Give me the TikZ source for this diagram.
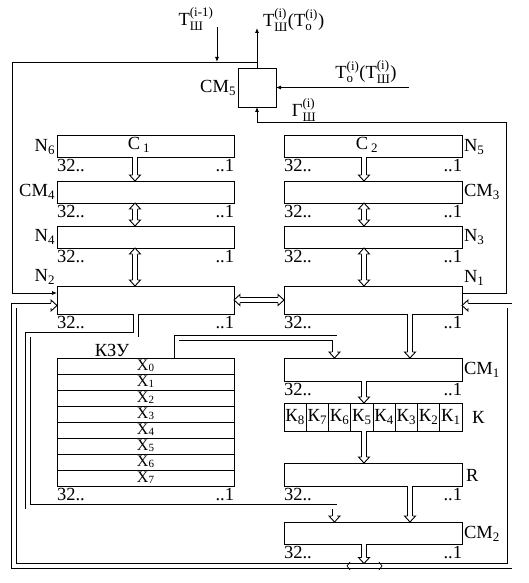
\documentclass[tikz,border=0pt]{standalone}
\usepackage{amsmath}
\usepackage{fontspec}
\setmainfont{Liberation Serif}
\usetikzlibrary{arrows.meta,decorations.markings}
\newcommand\fsz{\fontsize{18.5}{22}\selectfont}
\newcommand\xsz{\fontsize{16}{16}\selectfont}
\newcommand\xsub[1]{\raisebox{-1pt}{\fontsize{11}{11}\selectfont #1}}
\newcommand\hdE{\draw[line width=0.9pt,fill=white,shorten >=0pt,shorten <=0pt] (-6,2.5)--(-6,5.5)--(0,0)--(-6,-5.5)--(-6,-2.5);}
\newcommand\hdS{\draw[line width=0.9pt,fill=white,shorten >=0pt,shorten <=0pt] (6,2.5)--(6,5.5)--(0,0)--(6,-5.5)--(6,-2.5);}
\newcommand\Tx[3]{$\text{#1}_{\text{#2}}^{\text{#3}}$}
\tikzset{
  reg/.style={draw, inner sep=0pt, outer sep=0pt, minimum width=177pt, minimum height=22pt},
  regR/.style={reg, minimum width=178pt},
  kcell/.style={draw, inner sep=0pt, outer sep=0pt, minimum width=22.25pt, minimum height=28pt},
  zrow/.style={draw, inner sep=0pt, outer sep=0pt, minimum width=177pt, minimum height=16pt, font=\xsz},
  lbl/.style={inner sep=0pt, outer sep=0pt},
  num/.style={inner sep=0pt, outer sep=0pt, yshift=-2.5pt},
  thinA/.style={draw, line width=0.8pt, -{Latex[length=5pt,width=4pt]}},
  dbl/.style={draw, line width=0.9pt, double=white, double distance=4pt},
  dE/.style={dbl, shorten >=6pt, postaction={decorate, decoration={markings, mark=at position 1 with {\hdE}}}},
  dB/.style={dbl, shorten >=6pt, shorten <=6pt, postaction={decorate, decoration={markings, mark=at position 0 with {\hdS}, mark=at position 1 with {\hdE}}}}
}
\begin{document}
\begin{tikzpicture}[x=1pt,y=-1pt,line width=0.9pt,font=\fsz]
\useasboundingbox (0,0) rectangle (529,583);
% helper coordinates
\coordinate (LA) at (135,0);
\coordinate (RA) at (364,0);
\coordinate (RB) at (410,0);
\coordinate (NQ) at (136,0);
\coordinate (KQ) at (176.5,0);
\coordinate (y293) at (0,293);
\coordinate (y305) at (0,305.5);
\coordinate (p1) at (28,334.5);
\coordinate (p2) at (334.5,506.5);
\coordinate (p3) at (334.5,338);
\coordinate (bl) at (14,566);
\coordinate (br) at (509.5,566);
\coordinate (bt) at (0,563.5);
\coordinate (jn) at (257,62);
\coordinate (tl) at (12,62);
\coordinate (tin) at (217,27);
\coordinate (tout) at (257,28);
\coordinate (tin2) at (409,87.5);
\coordinate (g1) at (506.5,122);
% left column
\node[reg] (c1) at (145.5,146) {};
\node[reg] (cm4) at (145.5,192) {};
\node[reg] (n4) at (145.5,237) {};
\node[reg, minimum height=28pt] (n2) at (145.5,300) {};
% right column
\node[regR] (c2) at (373,146) {};
\node[regR] (cm3) at (373,192) {};
\node[regR] (n3) at (373,237) {};
\node[regR, minimum height=28pt] (n1) at (373,300) {};
\node[regR, minimum height=23pt] (cm1) at (373,369.5) {};
\node[regR, minimum height=23pt] (r) at (373,474.5) {};
\node[regR] (cm2) at (373,533) {};
% K register
\foreach \j/\k in {1/8,2/7,3/6,4/5,5/4,6/3,7/2,8/1}
  \node[kcell] (k\k) at ({284+22.25*(\j-0.5)},417) {К\textsubscript{\k}};
% KZU
\foreach \i in {0,...,7}
  \node[zrow] (x\i) at (145.5,{366+16*\i}) {X\xsub{\i}};
% CM5
\node[draw, inner sep=0pt, outer sep=0pt, minimum width=38pt, minimum height=39pt] (cm5) at (257,87.5) {};
% bit labels
\foreach \b in {c1,cm4,n4,n2,c2,cm3,n3,n1,cm1,r,cm2,x7}{
  \node[num, anchor=north west] (\b a) at (\b.south west) {32..};
  \node[num, anchor=north east] (\b b) at (\b.south east) {..1};
}
% labels
\node[lbl] (c1l) at (139,145) {С\,\textsubscript{1}};
\node[lbl] (c2l) at (367,145) {С\,\textsubscript{2}};
\node[lbl,anchor=east] (n6l) at (55,147) {N\textsubscript{6}};
\node[lbl,anchor=east] (cm4l) at (55,192) {СМ\textsubscript{4}};
\node[lbl,anchor=east] (n4l) at (55,237) {N\textsubscript{4}};
\node[lbl,anchor=east] (n2l) at (55,277) {N\textsubscript{2}};
\node[lbl,anchor=west] (n5l) at (464,147) {N\textsubscript{5}};
\node[lbl,anchor=west] (cm3l) at (464,192) {СМ\textsubscript{3}};
\node[lbl,anchor=west] (n3l) at (464,237) {N\textsubscript{3}};
\node[lbl,anchor=west] (n1l) at (464,278) {N\textsubscript{1}};
\node[lbl,anchor=west] (cm1l) at (464,370) {СМ\textsubscript{1}};
\node[lbl,anchor=west] (kl) at (472,417) {К};
\node[lbl,anchor=west] (rl) at (466,475) {R};
\node[lbl,anchor=west] (cm2l) at (464,534) {СМ\textsubscript{2}};
\node[lbl] (kzul) at (112,350) {КЗУ};
\node[lbl] (t1l) at (196,19) {\Tx{T}{Ш}{(i-1)}};
\node[lbl,anchor=west] (t2l) at (263,20) {\Tx{T}{Ш}{(i)}(\Tx{T}{о}{(i)})};
\node[lbl,anchor=east] (cm5l) at (236,88) {СМ\textsubscript{5}};
\node[lbl] (t3l) at (366,72) {\Tx{T}{о}{(i)}(\Tx{T}{Ш}{(i)})};
\node[lbl] (gl) at (304,110) {\Tx{Г}{Ш}{(i)}};
% vertical double arrows
\draw[dE] (c1.south -| LA) -- (cm4.north -| LA);
\draw[dB] (cm4.south -| LA) -- (n4.north -| LA);
\draw[dB] (n4.south -| LA) -- (n2.north -| LA);
\draw[dE] (c2.south -| RA) -- (cm3.north -| RA);
\draw[dB] (cm3.south -| RA) -- (n3.north -| RA);
\draw[dB] (n3.south -| RA) -- (n1.north -| RA);
\draw[dB] (n2.east) -- (n1.west);
\draw[dE] (n1.south -| RB) -- (cm1.north -| RB);
\draw[dE] (cm1.south -| RA) -- (k5.north -| RA);
\draw[dE] (k5.south -| RA) -- (r.north -| RA);
\draw[dE] (r.south -| RB) -- (cm2.north -| RB);
\draw[dE] (cm2.south -| RA) -- (RA |- bt);
% routed double lines
\draw[dE] (n2.south -| NQ) |- (p1) |- (p2) -- (p2 |- cm2.north);
\draw[dE] (x0.north -| KQ) |- (p3) -- (p3 |- cm1.north);
\draw[dB] (n2.west |- y305) -| (bl) -- (br) |- (n1.east |- y305);
% direction marks on the bus
\draw[line width=0.7pt] (350,562) -- (347,566) -- (350,570);
\draw[line width=0.7pt] (379,562) -- (382,566) -- (379,570);
% thin lines
\draw[thinA] (jn) -- (tl) |- (n2.west |- y293);
\draw[thinA] (tin) -- (tin |- jn);
\draw[thinA] (cm5.north) -- (tout);
\draw[thinA] (tin2) -- (cm5.east);
\draw[thinA] (n1.east |- y293) -| (g1) -| (cm5.south);
\end{tikzpicture}
\end{document}
